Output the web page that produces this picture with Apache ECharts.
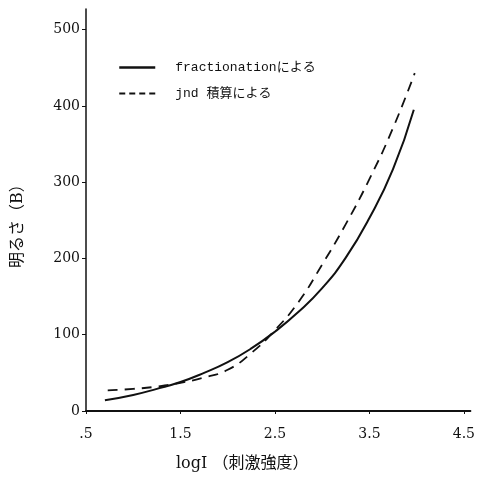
<!DOCTYPE html>
<html>
<head>
<meta charset="utf-8">
<script src="https://cdn.jsdelivr.net/npm/echarts@6/dist/echarts.min.js"></script>
<style>
  html, body { margin: 0; padding: 0; background: #fff; }
  #chart { width: 478px; height: 478px; }
</style>
</head>
<body>
<div id="chart"></div>
<script>
// Brightness (B) as a function of log stimulus intensity, two estimation methods
const fractionationX = [0.7, 1.0, 1.25, 1.5, 1.75, 2.0, 2.25, 2.5, 2.75, 3.0, 3.25, 3.5, 3.75, 3.97];
const fractionationB = [14, 21, 29, 38, 50, 64, 82, 104, 130, 161, 201, 253, 317, 395];
const jndX = [0.73, 1.0, 1.25, 1.5, 1.75, 2.0, 2.25, 2.5, 2.75, 3.0, 3.25, 3.5, 3.75, 3.98];
const jndB = [27, 29, 32, 37, 44, 54, 76, 106, 143, 192, 245, 304, 371, 443];
const xTicks = [0.5, 1.5, 2.5, 3.5, 4.5];
const yTicks = [0, 100, 200, 300, 400, 500];
const seriesNames = ['fractionationによる', 'jnd 積算による'];

const pairs = (xs, ys) => xs.map((x, i) => [x, ys[i]]);
const mono = 'Liberation Mono, "Noto Sans CJK JP", monospace';
const serif = 'DejaVu Serif, "Noto Sans CJK JP", serif';

const chart = echarts.init(document.getElementById('chart'));
chart.setOption({
  backgroundColor: '#fff',
  animation: false,
  grid: { left: 86, right: 5, top: 9, bottom: 67, containLabel: false },
  legend: {
    orient: 'vertical',
    left: 113,
    top: 56,
    itemWidth: 36,
    itemHeight: 14,
    itemGap: 13,
    itemStyle: { opacity: 0 },
    textStyle: { fontFamily: mono, fontSize: 13, color: '#111', padding: [0, 0, 0, 15] },
    data: [
      { name: seriesNames[0], lineStyle: { width: 2.5, type: 'solid' } },
      { name: seriesNames[1], lineStyle: { width: 2, type: [6, 4] } }
    ]
  },
  xAxis: {
    type: 'value',
    min: 0.5,
    max: 4.57,
    splitLine: { show: false },
    axisLine: { lineStyle: { color: '#111', width: 1.8 } },
    axisTick: { customValues: xTicks, length: 3, lineStyle: { color: '#111' } },
    axisLabel: {
      customValues: xTicks,
      margin: 16,
      fontFamily: serif,
      fontSize: 14,
      color: '#111',
      formatter: v => (v === 0.5 ? '.5' : v.toFixed(1))
    }
  },
  yAxis: {
    type: 'value',
    min: 0,
    max: 527,
    splitLine: { show: false },
    axisLine: { show: true, lineStyle: { color: '#111', width: 1.5 } },
    axisTick: { show: true, customValues: yTicks, length: 4, lineStyle: { color: '#111' } },
    axisLabel: {
      customValues: yTicks,
      margin: 6,
      fontFamily: serif,
      fontSize: 14,
      color: '#111'
    }
  },
  graphic: [
    {
      type: 'text',
      left: 176,
      top: 456,
      style: { text: 'logI （刺激強度）', font: '16px ' + serif, fill: '#111' }
    },
    {
      type: 'text',
      x: 10,
      y: 268,
      rotation: Math.PI / 2,
      style: { text: '明るさ（B）', font: '16px ' + serif, fill: '#111' }
    }
  ],
  series: [
    {
      name: seriesNames[0],
      type: 'line',
      smooth: true,
      symbol: 'none',
      data: pairs(fractionationX, fractionationB),
      lineStyle: { color: '#111', width: 2, type: 'solid' },
      itemStyle: { color: '#111' }
    },
    {
      name: seriesNames[1],
      type: 'line',
      smooth: true,
      symbol: 'none',
      data: pairs(jndX, jndB),
      lineStyle: { color: '#111', width: 1.8, type: [10, 7] },
      itemStyle: { color: '#111' }
    }
  ]
});
</script>
</body>
</html>
